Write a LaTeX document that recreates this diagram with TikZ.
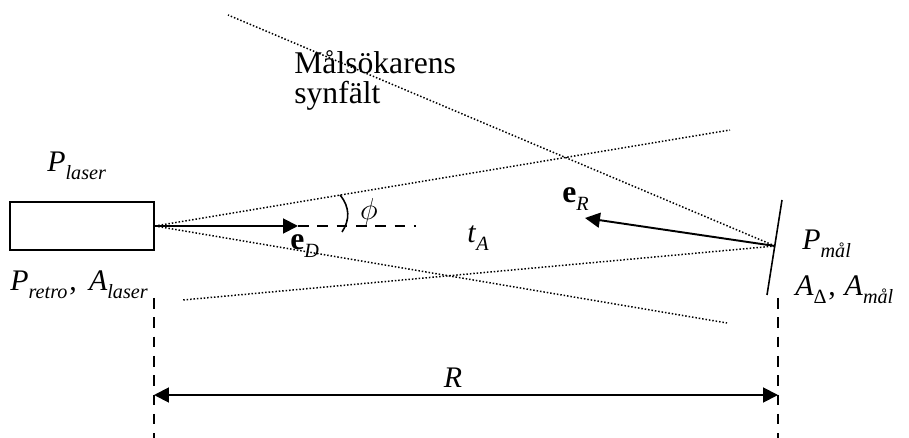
\documentclass[tikz,border=0pt]{standalone}
\usepackage{fontspec}
\setmainfont{Liberation Serif}
\usepackage{tikz}
\usetikzlibrary{arrows.meta}
\newcommand{\stor}[2]{\textit{#1}\raisebox{-4pt}{\fontsize{11.5}{13}\selectfont\textit{#2}}}
\newcommand{\vek}[1]{{\fontsize{18}{20}\selectfont\textbf{e}}\raisebox{-4.5pt}{\fontsize{11.5}{13}\selectfont\textit{#1}}}
\tikzset{
  lada/.style      = {draw, line width=1pt, minimum width=82pt, minimum height=27pt, inner sep=0pt},
  etikett/.style   = {font=\fontsize{17}{20}\selectfont, inner sep=0pt},
  rubrik/.style    = {font=\fontsize{18}{17.5}\selectfont, align=left, inner sep=0pt},
  pil/.style       = {-{Triangle[length=8.5pt,width=8.5pt]}, line width=1.1pt},
  dubbelpil/.style = {{Triangle[length=8.5pt,width=8.5pt]}-{Triangle[length=8.5pt,width=8.5pt]}, line width=1.1pt},
  prickad/.style   = {line width=0.85pt, dash pattern=on 0.85pt off 1.1pt},
  streckad/.style  = {line width=1pt, dash pattern=on 6pt off 5pt},
  spegel/.style    = {line width=0.9pt}
}

\begin{document}
\begin{tikzpicture}[x=0.02cm, y=-0.02cm]
        \useasboundingbox (0,0) rectangle (909,438);

        \node[lada] (laser) at (82,226) {};
        \coordinate (mal) at (775,246);
        \coordinate (spegelTopp) at (782,200);
        \coordinate (spegelBotten) at (767,295);

        \coordinate (ovreSlut) at (730,130);
        \coordinate (nedreSlut) at (727,323);
        \coordinate (vansterSlut) at (183,300);
        \coordinate (toppSlut) at (228,15);
        \coordinate (eDspets) at (298,226);
        \coordinate (axelSlut) at (416,226);
        \coordinate (eRspets) at (585,218);
        \coordinate (vBas) at (154,298);
        \coordinate (vNed) at (154,438);
        \coordinate (hBas) at (778,298);
        \coordinate (hNed) at (778,438);
        \coordinate (Rv) at (154,395);
        \coordinate (Rh) at (778,395);

        % synfalt
        \draw[prickad] (laser.east) -- (ovreSlut);
        \draw[prickad] (laser.east) -- (nedreSlut);
        \draw[prickad] (mal) -- (vansterSlut);
        \draw[prickad] (mal) -- (toppSlut);

        \draw[spegel] (spegelTopp) -- (spegelBotten);

        \draw[pil] (laser.east) -- (eDspets);
        \draw[streckad] (eDspets) -- (axelSlut);
        \draw[pil] (mal) -- (eRspets);
        \draw[line width=0.9pt] (340,195) .. controls (350,207) and (350,220) .. (342,232);

        \draw[streckad] (vBas) -- (vNed);
        \draw[streckad] (hBas) -- (hNed);
        \draw[dubbelpil] (Rv) -- (Rh);

        \node[rubrik, anchor=north west] (synfalt) at (294,50) {Målsökarens\\synfält};
        \node[etikett, anchor=base west] (plaser) at (47,172) {\stor{P}{laser}};
        \node[etikett, anchor=base west] (pretro) at (10,291) {\stor{P}{retro}\kern1pt,\hspace{7pt}\stor{A}{laser}};
        \node[etikett, anchor=base west] (pmal) at (802,250) {\stor{P}{mål}};
        \node[etikett, anchor=base west] (amal) at (795,296)
          {\textit{A}\raisebox{-4pt}{\fontsize{11.5}{13}\selectfont Δ}\kern1pt,\hspace{5pt}\stor{A}{mål}};
        \node[etikett, anchor=base west] (tA) at (467,243) {\stor{t}{A}};
        \node[etikett, anchor=base west] (eD) at (290,250) {\vek{D}};
        \node[etikett, anchor=base west] (eR) at (562,203) {\vek{R}};
        \node[etikett, anchor=base] (R) at (453,388) {\textit{R}};
        \node[etikett] (phi) at (369,212) {$\phi$};
\end{tikzpicture}
\end{document}
